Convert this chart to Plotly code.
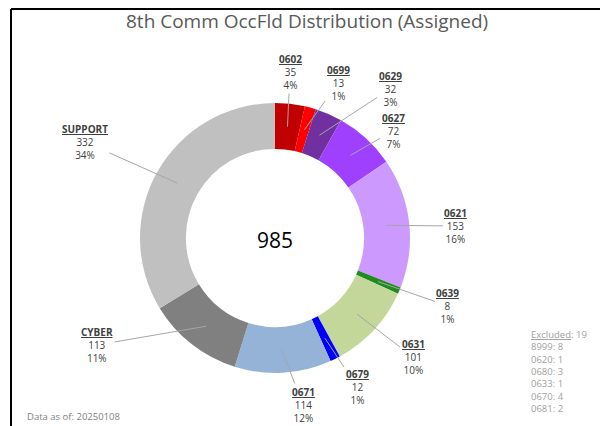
import plotly.graph_objects as go
import math

# ---- data ----
codes = ["0602", "0699", "0629", "0627", "0621", "0639", "0631", "0679", "0671", "CYBER", "SUPPORT"]
counts = [35, 13, 32, 72, 153, 8, 101, 12, 114, 113, 332]
colors = ["#C00000", "#FF0000", "#7030A0", "#A040FF", "#CC99FF", "#1E8C1E",
          "#C4D79B", "#0000FF", "#95B3D7", "#808080", "#C0C0C0"]
excluded_codes = ["8999", "0620", "0680", "0633", "0670", "0681"]
excluded_counts = [8, 1, 3, 1, 4, 2]
title_text = "8th Comm OccFld Distribution (Assigned)"
as_of = "Data as of: 20250108"

# page offset (browser body margin) and figure size
OFF = 8
W, H = 608 - OFF, 426 - OFF

# label block centres (screen pixels) - layout only
label_pos = {
    "0602": (290, 72), "0699": (338, 83), "0629": (390, 89), "0627": (393, 131),
    "0621": (456, 226), "0639": (448, 306), "0631": (413, 357), "0679": (357, 387),
    "0671": (303, 405), "CYBER": (97, 345), "SUPPORT": (85, 142),
}

cx, cy, R = 275, 238, 135
total = sum(counts)

def px(x):
    return (x - OFF) / W

def py(y):
    return 1 - (y - OFF) / H

fig = go.Figure()
fig.add_trace(go.Pie(
    labels=codes, values=counts, sort=False, direction="clockwise", rotation=0,
    hole=0.66, marker=dict(colors=colors, line=dict(width=0)),
    textinfo="none", showlegend=False,
    domain=dict(x=[px(cx - R), px(cx + R)], y=[py(cy + R), py(cy - R)]),
))

annotations = []
cum = 0
for code, v in zip(codes, counts):
    mid = (cum + v / 2) / total * 2 * math.pi
    cum += v
    tr = 112
    tx = cx + tr * math.sin(mid)
    ty = cy - tr * math.cos(mid)
    lx, ly = label_pos[code]
    pct = round(v / total * 100)
    annotations.append(dict(
        x=px(tx), y=py(ty), xref="paper", yref="paper",
        ax=lx - tx, ay=ly - ty, axref="pixel", ayref="pixel",
        text=f"<b><u>{code}</u></b><br>{v}<br>{pct}%",
        showarrow=True, arrowhead=0, arrowwidth=1, arrowcolor="#A6A6A6",
        font=dict(family="Open Sans", size=10, color="#404040"),
        align="center",
    ))

annotations.append(dict(x=px(cx), y=py(cy + 2), xref="paper", yref="paper", showarrow=False,
                        xanchor="center", yanchor="middle",
                        text=str(total), font=dict(family="Open Sans", size=21, color="#000000")))
annotations.append(dict(x=px(307), y=py(21), xref="paper", yref="paper", showarrow=False,
                        xanchor="center", yanchor="middle",
                        text=title_text, font=dict(family="Open Sans", size=19, color="#595959")))
annotations.append(dict(x=px(25), y=py(416), xref="paper", yref="paper", showarrow=False,
                        xanchor="left", yanchor="middle", text=as_of,
                        font=dict(family="Open Sans", size=9.5, color="#7F7F7F")))
excl_lines = [f"<u>Excluded</u>: {sum(excluded_counts)}"] + \
    [f"{c}: {n}" for c, n in zip(excluded_codes, excluded_counts)]
annotations.append(dict(x=px(529), y=py(326), xref="paper", yref="paper", showarrow=False,
                        xanchor="left", yanchor="top", align="left",
                        text="<br>".join(excl_lines),
                        font=dict(family="Open Sans", size=9.5, color="#A0A0A0")))

shapes = [
    dict(type="line", xref="paper", yref="paper", x0=px(11), x1=px(11), y0=0, y1=py(9),
         line=dict(color="#000000", width=2)),
    dict(type="line", xref="paper", yref="paper", x0=px(11), x1=1, y0=py(9), y1=py(9),
         line=dict(color="#000000", width=2)),
]

fig.update_layout(
    width=W, height=H, margin=dict(l=0, r=0, t=0, b=0),
    paper_bgcolor="white", plot_bgcolor="white",
    annotations=annotations, shapes=shapes,
)
fig.write_html("out.html")
